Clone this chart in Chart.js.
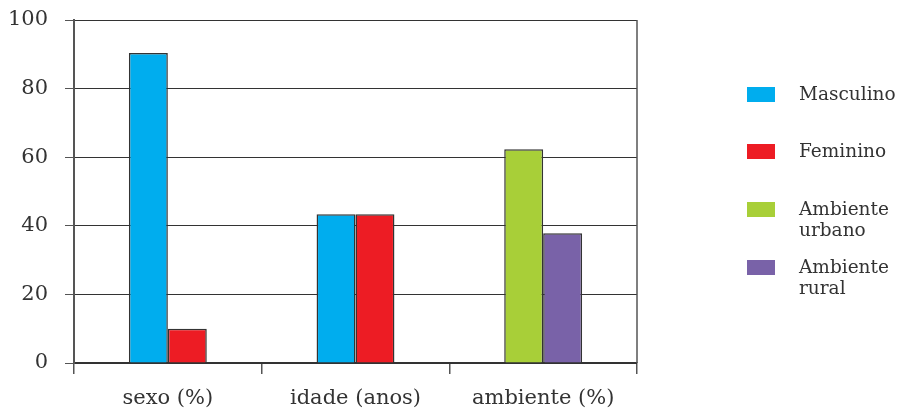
<!DOCTYPE html>
<html>
<head>
<meta charset="utf-8">
<title>Perfil</title>
<script src="https://cdn.jsdelivr.net/npm/chart.js@4"></script>
<style>
    body { margin: 0; background: #fff; }
    #wrap { width: 899px; height: 410px; }
</style>
</head>
<body>
<div id="wrap"><canvas id="perfilChart" width="899" height="410"></canvas></div>
<script>
/* data */
var categorias = ['sexo (%)', 'idade (anos)', 'ambiente (%)'];
var masculino = [90.4, 43.4, null];
var feminino = [10, 43.4, null];
var urbano = [null, null, 62.3];
var rural = [null, null, 37.8];
var yTicks = [0, 20, 40, 60, 80, 100];

var fonte = 'DejaVu Serif';
var texto = '#333';

/* legend on the right side, one box per dataset, label broken on spaces */
const legendaLateral = {
    id: 'legendaLateral',
    afterDraw(chart) {
        const c = chart.ctx;
        var tops = [87, 144, 202, 260]; // top of each colour box
        c.save();
        c.font = '18.5px "' + fonte + '"';
        c.fillStyle = texto;
        c.textBaseline = 'middle';
        chart.data.datasets.forEach((ds, i) => {
            c.fillStyle = ds.backgroundColor;
            c.fillRect(747, tops[i], 28, 15);
            c.fillStyle = texto;
            ds.label.split(' ').forEach((linha, j) => {
                c.fillText(linha, 799, tops[i] + 8 + j * 21);
            });
        });
        c.restore();
    }
};

/* right frame line, chart.js only draws the left one */
const bordaDireita = {
    id: 'bordaDireita',
    afterDraw(chart) {
        const a = chart.chartArea;
        const c = chart.ctx;
        c.save();
        c.strokeStyle = '#555';
        c.lineWidth = 1.5;
        c.beginPath();
        c.moveTo(a.right, a.top);
        c.lineTo(a.right, a.bottom);
        c.stroke();
        c.restore();
    }
};

const ctx = document.getElementById('perfilChart').getContext('2d');
const perfilChart = new Chart(ctx, {
    type: 'bar',
    data: {
        labels: categorias,
        datasets: [
            { label: 'Masculino', data: masculino, backgroundColor: '#00ADEE' },
            { label: 'Feminino', data: feminino, backgroundColor: '#ED1C24' },
            { label: 'Ambiente urbano', data: urbano, backgroundColor: '#A8CF38' },
            { label: 'Ambiente rural', data: rural, backgroundColor: '#7962A8' }
        ]
    },
    options: {
        responsive: false,
        animation: false,
        skipNull: true, // only two bars per group
        categoryPercentage: 0.415,
        barPercentage: 1,
        datasets: {
            bar: { borderColor: '#333', borderWidth: 1.5 }
        },
        layout: { padding: { top: 20, right: 262, left: 0, bottom: 0 } },
        plugins: {
            legend: { display: false },
            tooltip: { enabled: false }
        },
        scales: {
            x: {
                afterFit: (s) => { s.height = 47; },
                grid: {
                    offset: true,
                    drawOnChartArea: false,
                    tickLength: 11,
                    color: '#555',
                    lineWidth: 1.5
                },
                border: { display: true, color: '#333', width: 1.5 },
                ticks: {
                    padding: 12,
                    color: texto,
                    font: { family: fonte, size: 21 }
                }
            },
            y: {
                min: 0,
                max: 100,
                afterFit: (s) => {
                    s.width = 74;
                    s.paddingTop = 0; // labels may overhang, keep the plot top fixed
                    s.paddingBottom = 0;
                },
                afterBuildTicks: (s) => { s.ticks = yTicks.map(v => ({ value: v })); },
                grid: {
                    color: '#333',
                    lineWidth: 1,
                    tickLength: 9,
                    tickColor: '#555'
                },
                border: { display: true, color: '#555', width: 2 },
                ticks: {
                    padding: 17,
                    color: texto,
                    font: { family: fonte, size: 21 }
                }
            }
        }
    },
    plugins: [legendaLateral, bordaDireita]
});
</script>
</body>
</html>
